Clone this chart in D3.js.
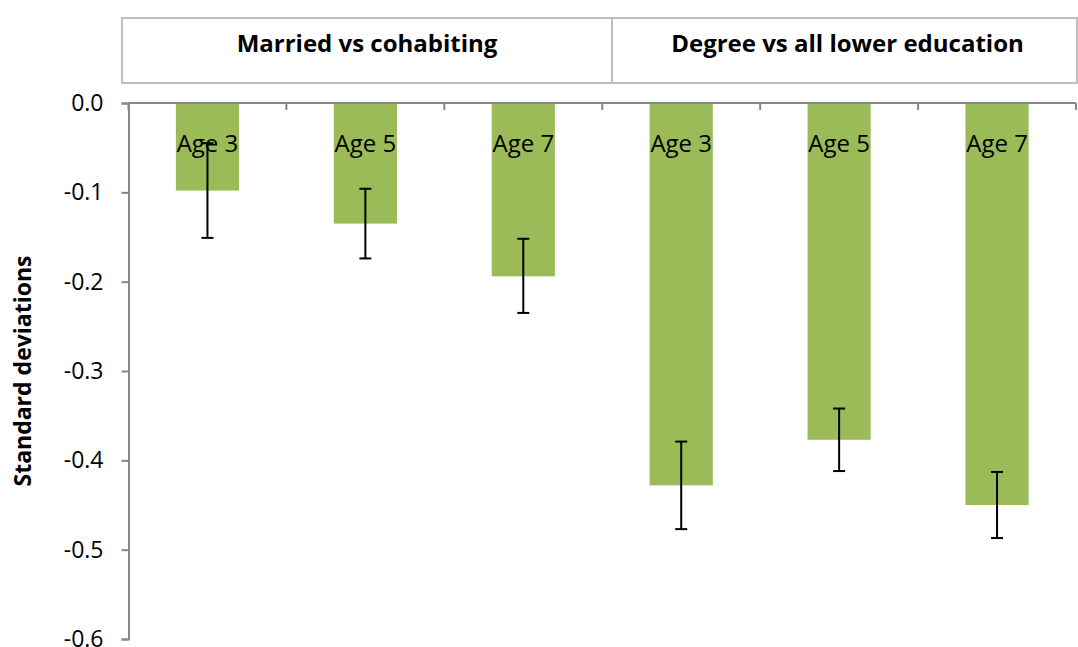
<!DOCTYPE html>
<html>
<head>
<meta charset="utf-8">
<script src="https://cdn.jsdelivr.net/npm/d3@7"></script>
<style>
html,body{margin:0;padding:0;background:#fff;}
svg{display:block;}
text{font-family:"Open Sans",sans-serif;fill:#000;}
</style>
</head>
<body>
<svg id="chart" width="1078" height="647"></svg>
<script>
// ---- data ----
const groups = ["Married vs cohabiting", "Degree vs all lower education"];
const ages = ["Age 3", "Age 5", "Age 7"];
const categories = ["m3", "m5", "m7", "d3", "d5", "d7"];
const values = [-0.098, -0.135, -0.194, -0.428, -0.377, -0.450];
const errLow = [-0.151, -0.174, -0.235, -0.477, -0.412, -0.487];
const errHigh = [-0.045, -0.096, -0.152, -0.379, -0.342, -0.413];
const yTicks = [0.0, -0.1, -0.2, -0.3, -0.4, -0.5, -0.6];
const yTitle = "Standard deviations";

// ---- layout ----
const svg = d3.select("#chart");
const plot = {left: 128.5, right: 1076, top: 103, bottom: 639};
const box = {left: 122, right: 1077, top: 18, bottom: 83, split: 612};

const x = d3.scaleBand().domain(categories).range([plot.left, plot.right]).padding(0);
const y = d3.scaleLinear().domain([0, -0.6]).range([plot.top, plot.bottom]);
const barW = x.bandwidth() * 0.4;

// header box
const hdr = svg.append("g");
hdr.append("rect").attr("x", box.left).attr("y", box.top)
  .attr("width", box.right - box.left).attr("height", box.bottom - box.top)
  .attr("fill", "none").attr("stroke", "#bfbfbf").attr("stroke-width", 2);
hdr.append("line").attr("x1", box.split).attr("x2", box.split)
  .attr("y1", box.top).attr("y2", box.bottom)
  .attr("stroke", "#bfbfbf").attr("stroke-width", 2);
const hx = [(box.left + box.split) / 2, (box.split + box.right) / 2 + 3];
hdr.selectAll("text.h").data(groups).enter().append("text")
  .attr("class", "h")
  .attr("x", (d, i) => hx[i]).attr("y", 52)
  .attr("text-anchor", "middle")
  .style("font-weight", "bold").style("font-size", "24px")
  .text(d => d);

// bars
svg.append("g").selectAll("rect").data(values).enter().append("rect")
  .attr("x", (d, i) => x(categories[i]) + (x.bandwidth() - barW) / 2)
  .attr("y", y(0))
  .attr("width", barW)
  .attr("height", d => y(d) - y(0))
  .attr("fill", "#9bbb59");

// y axis
const yAxis = d3.axisLeft(y).tickValues(yTicks).tickFormat(d => d.toFixed(1)).tickSize(7).tickPadding(18);
const ya = svg.append("g").attr("transform", `translate(${plot.left},0)`).call(yAxis);
ya.select(".domain").attr("stroke", "#868686").attr("stroke-width", 2);
ya.selectAll(".tick line").attr("stroke", "#868686").attr("stroke-width", 2);
ya.selectAll(".tick text").style("font-size", "23px").style("font-family", "'Open Sans',sans-serif").attr("fill", "#000");

// x axis (at zero, top)
const xa = svg.append("g").attr("transform", `translate(0,${y(0)})`);
xa.append("line").attr("x1", plot.left).attr("x2", plot.right)
  .attr("stroke", "#868686").attr("stroke-width", 2);
const bounds = categories.map(c => x(c) + x.bandwidth()).concat([plot.left]);
xa.selectAll("line.t").data(bounds).enter().append("line").attr("class", "t")
  .attr("x1", d => d).attr("x2", d => d).attr("y1", 0).attr("y2", 7)
  .attr("stroke", "#868686").attr("stroke-width", 2);

// category labels
svg.append("g").selectAll("text").data(categories).enter().append("text")
  .attr("x", c => x(c) + x.bandwidth() / 2)
  .attr("y", 152)
  .attr("text-anchor", "middle")
  .style("font-size", "24px")
  .text((c, i) => ages[i % 3]);

// error bars
const eb = svg.append("g").attr("stroke", "#000").attr("stroke-width", 2);
categories.forEach((c, i) => {
  const cx = x(c) + x.bandwidth() / 2;
  eb.append("line").attr("x1", cx).attr("x2", cx).attr("y1", y(errHigh[i])).attr("y2", y(errLow[i]));
  eb.append("line").attr("x1", cx - 6).attr("x2", cx + 6).attr("y1", y(errHigh[i])).attr("y2", y(errHigh[i]));
  eb.append("line").attr("x1", cx - 6).attr("x2", cx + 6).attr("y1", y(errLow[i])).attr("y2", y(errLow[i]));
});

// y title
svg.append("text")
  .attr("transform", `translate(31,${(plot.top + plot.bottom) / 2}) rotate(-90)`)
  .attr("text-anchor", "middle")
  .style("font-weight", "bold").style("font-size", "23px")
  .text(yTitle);
</script>
</body>
</html>
